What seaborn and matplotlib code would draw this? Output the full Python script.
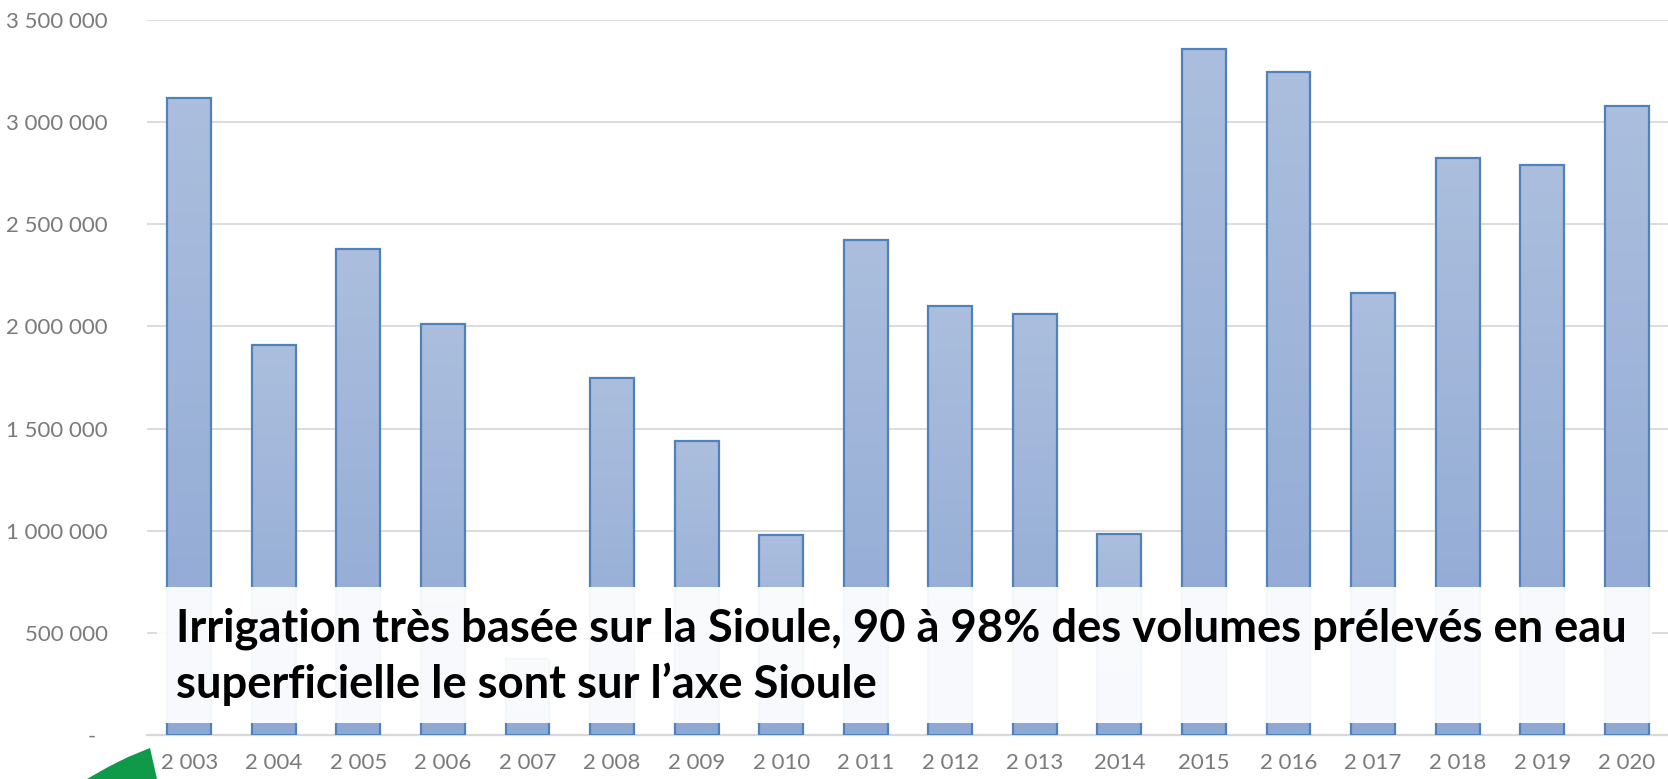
import numpy as np
import pandas as pd
import seaborn as sns
import matplotlib.pyplot as plt
from matplotlib.patches import Rectangle, Polygon
from matplotlib.colors import LinearSegmentedColormap

# Volumes prélevés pour l'irrigation (m3)
years = ["2 003", "2 004", "2 005", "2 006", "2 007", "2 008", "2 009", "2 010", "2 011",
         "2 012", "2 013", "2014", "2015", "2 016", "2 017", "2 018", "2 019", "2 020"]
volumes = [3119000, 1907000, 2379000, 2010000, 372000, 1749000, 1437000, 979000, 2421000,
           2098000, 2062000, 984000, 3359000, 3245000, 2166000, 2823000, 2792000, 3077000]
yticks = [0, 500000, 1000000, 1500000, 2000000, 2500000, 3000000, 3500000]

df = pd.DataFrame({"annee": years, "volume": volumes})

sns.set_style("white")
plt.rcParams["font.family"] = ["Lato", "DejaVu Sans"]

W, H = 1668, 779
fig = plt.figure(figsize=(W / 100, H / 100), dpi=100)
ax = fig.add_axes([147 / W, 1 - 735 / H, (1669 - 147) / W, (735 - 20) / H])

sns.barplot(data=df, x="annee", y="volume", color="#A3B7D9", width=0.52,
            edgecolor="#4F81BD", linewidth=1.6, ax=ax, zorder=2)

# dégradé vertical dans chaque barre
grad = LinearSegmentedColormap.from_list("g", ["#8EA8D4", "#ABBEDD"])
for p in ax.patches:
    x0, y0 = p.get_x(), p.get_y()
    w, h = p.get_width(), p.get_height()
    img = ax.imshow(np.linspace(0, 1, 100).reshape(-1, 1), cmap=grad, origin="lower",
                    extent=[x0, x0 + w, y0, y0 + h], aspect="auto", zorder=2.5)
    img.set_clip_path(p)
    p.set_facecolor("none")
    p.set_zorder(3)

ax.set_xlim(-0.5, len(years) - 0.5)
ax.set_ylim(0, 3500000)
ax.set_yticks(yticks)
ax.set_yticklabels(["-  "] + [f"{v:,}".replace(",", " ") for v in yticks[1:]])
ax.grid(axis="y", color="#D9D9D9", linewidth=1.3, zorder=0)
ax.set_axisbelow(True)
ax.set_xlabel("")
ax.set_ylabel("")
for s in ["top", "right", "left"]:
    ax.spines[s].set_visible(False)
ax.spines["bottom"].set_color("#D9D9D9")
ax.spines["bottom"].set_linewidth(1.6)
ax.tick_params(axis="y", length=0, pad=28, labelsize=16, labelcolor="#7A7A7A")
ax.tick_params(axis="x", length=0, pad=13, labelsize=16, labelcolor="#7A7A7A")

# cadre semi-transparent avec le message
fig.patches.append(Rectangle((157 / W, 1 - 723 / H), (1652 - 157) / W, (723 - 587) / H,
                             transform=fig.transFigure, facecolor="white", alpha=0.94,
                             edgecolor="none", zorder=5))
fig.text(176 / W, 1 - 642 / H,
         "Irrigation très basée sur la Sioule, 90 à 98% des volumes prélevés en eau",
         fontsize=32.7, fontweight="bold", color="black", va="baseline", zorder=6)
fig.text(176 / W, 1 - 698 / H, "superficielle le sont sur l’axe Sioule",
         fontsize=32.7, fontweight="bold", color="black", va="baseline", zorder=6)

# logo vert (coin bas gauche)
logo = [(150, 748), (157, 779), (87, 779), (108, 767), (128, 757)]
fig.patches.append(Polygon([(x / W, 1 - y / H) for x, y in logo], closed=True,
                           transform=fig.transFigure, facecolor="#0E9A48",
                           edgecolor="none", zorder=5))

plt.savefig("out.png", dpi=100)
